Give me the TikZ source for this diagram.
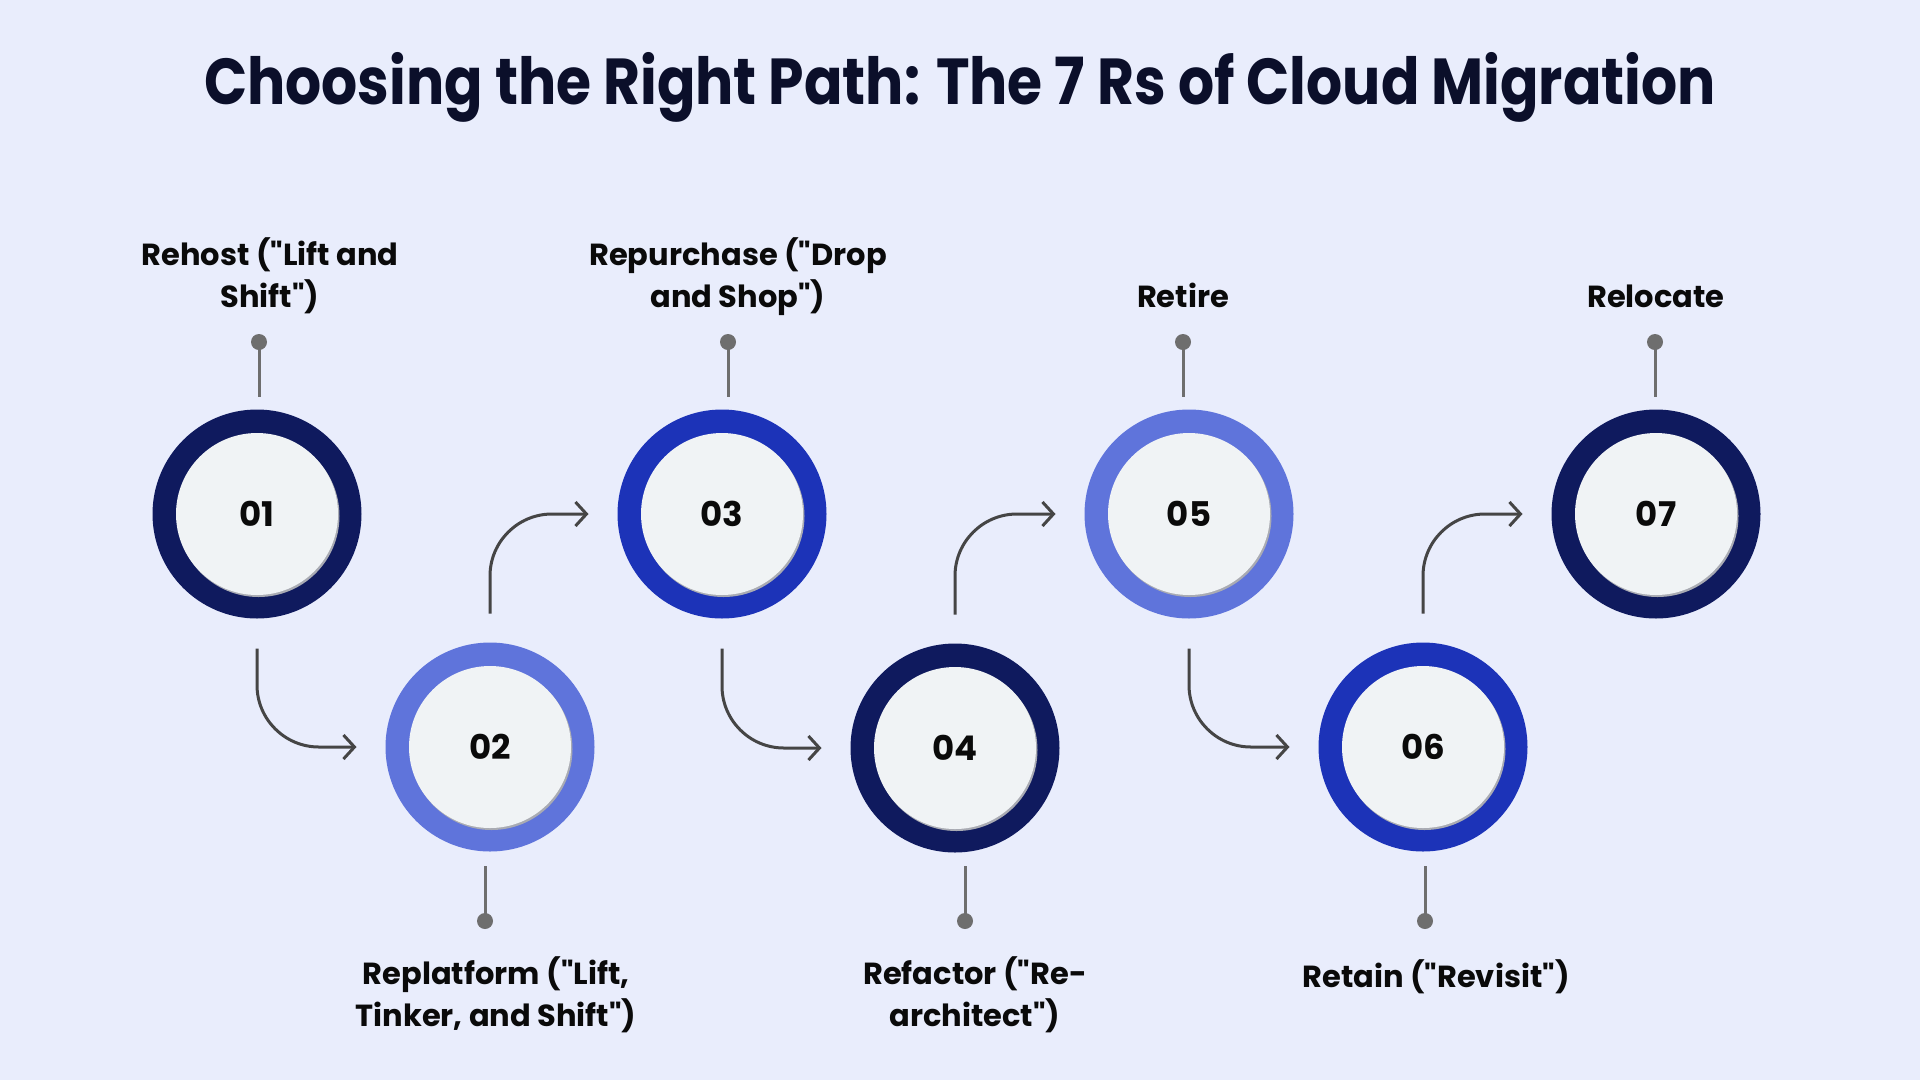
\documentclass[tikz,border=0pt]{standalone}
\usepackage{fontspec}
\setmainfont{Poppins}[Ligatures=TeXOff]
\usetikzlibrary{arrows.meta}
\definecolor{bg}{HTML}{E9EDFC}
\definecolor{navy}{HTML}{0F1A5E}
\definecolor{royal}{HTML}{1C33B8}
\definecolor{peri}{HTML}{5F74DB}
\definecolor{innerc}{HTML}{F0F3F5}
\definecolor{shadowc}{HTML}{A9ABB3}
\definecolor{pinc}{HTML}{6E6E6E}
\definecolor{arrowc}{HTML}{454545}
\definecolor{titlec}{HTML}{0B0F2A}
\definecolor{textc}{HTML}{0A0A0A}
\newcommand\qq{\symbol{34}}
\tikzset{
  ring/.style={circle, fill=#1, minimum size=209pt, inner sep=0pt, outer sep=0pt},
  core/.style={circle, fill=innerc, minimum size=162pt, inner sep=0pt, outer sep=0pt,
    font=\fontsize{34}{40}\selectfont\bfseries, text=textc},
  coreshadow/.style={circle, fill=shadowc, minimum size=162pt, inner sep=0pt},
  lbl/.style={align=center, inner sep=0pt, font=\fontsize{30.5}{42}\selectfont\bfseries, text=textc},
  flow/.style={draw=arrowc, line width=3pt, rounded corners=62pt,
    -{Straight Barb[length=11pt,width=24pt,line width=3pt]}},
  pinline/.style={draw=pinc, line width=3pt},
  pindot/.style={fill=pinc},
}
\begin{document}
\begin{tikzpicture}[x=1pt,y=-1pt]
\fill[bg] (0,0) rectangle (1920,1080);
\useasboundingbox (0,0) rectangle (1920,1080);

\node[font=\fontsize{65}{70}\selectfont\bfseries, text=titlec, anchor=base, inner sep=0pt] (title) at (960,104) {\scalebox{0.873}[1]{Choosing the Right Path: The 7 Rs of Cloud Migration}};

% circles
\foreach \n/\x/\y/\c in {1/257/514/navy, 2/490/747/peri, 3/722/514/royal, 4/955/748/navy, 5/1189/514/peri, 6/1423/747/royal, 7/1656/514/navy}{
  \node[ring=\c] (c\n) at (\x,\y) {};
  \node[coreshadow] at (\x+1.5,\y+2) {};
  \node[core] (k\n) at (\x,\y) {0\n};
}

% arrows
\draw[flow] ([yshift=-30pt]c1.south) |- ([xshift=-29pt]c2.west);
\draw[flow] ([yshift=-30pt]c3.south) |- ([xshift=-29pt]c4.west);
\draw[flow] ([yshift=-30pt]c5.south) |- ([xshift=-29pt]c6.west);
\draw[flow] ([yshift=29pt]c2.north) |- ([xshift=-29pt]c3.west);
\draw[flow] ([yshift=29pt]c4.north) |- ([xshift=-29pt]c5.west);
\draw[flow] ([yshift=29pt]c6.north) |- ([xshift=-29pt]c7.west);

% pins
\foreach \n/\x in {1/259, 3/728, 5/1183, 7/1655}{
  \coordinate (p\n) at (\x,342);
  \draw[pinline] (p\n) -- (\x,397);
  \fill[pindot] (p\n) circle (8pt);
}
\foreach \n/\x in {2/485, 4/965, 6/1425}{
  \coordinate (p\n) at (\x,921);
  \draw[pinline] (p\n) -- (\x,866);
  \fill[pindot] (p\n) circle (8pt);
}

% labels
\node[lbl, anchor=base] (l1) at (270,307) {Rehost (\qq Lift and\\Shift\qq)};
\node[lbl, anchor=base] (l3) at (738,307) {Repurchase (\qq Drop\\and Shop\qq)};
\node[lbl, anchor=base] (l5) at (1183,307) {Retire};
\node[lbl, anchor=base] (l7) at (1656,307) {Relocate};
\node[lbl, anchor=base] (l2) at (496,1026) {Replatform (\qq Lift,\\Tinker, and Shift\qq)};
\node[lbl, anchor=base] (l4) at (975,1026) {Refactor (\qq Re-\\architect\qq)};
\node[lbl, anchor=base] (l6) at (1436,987) {Retain (\qq Revisit\qq)};
\end{tikzpicture}
\end{document}
